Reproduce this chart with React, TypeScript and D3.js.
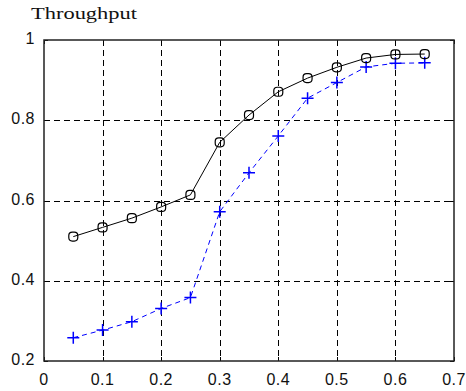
import * as d3 from 'd3'
import { useEffect, useRef } from 'react'

const loads = [0.05, 0.1, 0.15, 0.2, 0.25, 0.3, 0.35, 0.4, 0.45, 0.5, 0.55, 0.6, 0.65]
const throughputA = [0.51, 0.533, 0.556, 0.584, 0.614, 0.745, 0.813, 0.871, 0.905, 0.932, 0.955, 0.964, 0.965]
const throughputB = [0.258, 0.277, 0.298, 0.331, 0.358, 0.572, 0.669, 0.761, 0.855, 0.894, 0.933, 0.942, 0.943]
const xTicks = [0, 0.1, 0.2, 0.3, 0.4, 0.5, 0.6, 0.7]
const yTicks = [0.2, 0.4, 0.6, 0.8, 1]

const W = 466,
  H = 391

const App = () => {
  const ref = useRef<SVGSVGElement>(null)

  useEffect(() => {
    const svg = d3.select(ref.current)
    svg.selectAll('*').remove()

    var left = 44,
      right = 454,
      top = 40,
      bottom = 361

    var x = d3.scaleLinear().domain([0, 0.7]).range([left, right])
    var y = d3.scaleLinear().domain([0.2, 1]).range([bottom, top])

    svg.append('rect').attr('width', W).attr('height', H).attr('fill', '#fff')

    // grid
    var grid = svg.append('g').attr('stroke', '#000').attr('stroke-width', 1).attr('stroke-dasharray', '6,4')
    xTicks.slice(1, -1).forEach(function (t) {
      grid
        .append('line')
        .attr('x1', Math.round(x(t)) + 0.5)
        .attr('x2', Math.round(x(t)) + 0.5)
        .attr('y1', top)
        .attr('y2', bottom)
    })
    yTicks.slice(1, -1).forEach(function (t) {
      grid
        .append('line')
        .attr('y1', Math.round(y(t)) + 0.5)
        .attr('y2', Math.round(y(t)) + 0.5)
        .attr('x1', left)
        .attr('x2', right)
    })

    // inward ticks
    var ticks = svg.append('g').attr('stroke', '#000').attr('stroke-width', 1)
    xTicks.forEach(function (t) {
      var px = Math.round(x(t)) + 0.5
      ticks.append('line').attr('x1', px).attr('x2', px).attr('y1', bottom).attr('y2', bottom - 4)
      ticks.append('line').attr('x1', px).attr('x2', px).attr('y1', top).attr('y2', top + 4)
    })
    yTicks.forEach(function (t) {
      var py = Math.round(y(t)) + 0.5
      ticks.append('line').attr('y1', py).attr('y2', py).attr('x1', left).attr('x2', left + 4)
      ticks.append('line').attr('y1', py).attr('y2', py).attr('x1', right).attr('x2', right - 4)
    })

    // box
    svg
      .append('rect')
      .attr('x', left)
      .attr('y', top)
      .attr('width', right - left)
      .attr('height', bottom - top)
      .attr('fill', 'none')
      .attr('stroke', '#222')
      .attr('stroke-width', 1.5)

    // tick labels
    svg
      .append('g')
      .selectAll('text')
      .data(xTicks)
      .enter()
      .append('text')
      .attr('x', (d) => x(d))
      .attr('y', 385)
      .attr('text-anchor', 'middle')
      .attr('font-family', 'Liberation Sans, Arial, sans-serif')
      .attr('font-size', 16)
      .attr('letter-spacing', 0.5)
      .attr('fill', '#111')
      .text((d) => d3.format('~g')(d))

    svg
      .append('g')
      .selectAll('text')
      .data(yTicks)
      .enter()
      .append('text')
      .attr('x', 35)
      .attr('y', (d) => y(d) + 4)
      .attr('text-anchor', 'end')
      .attr('font-family', 'Liberation Sans, Arial, sans-serif')
      .attr('font-size', 16)
      .attr('letter-spacing', 0.5)
      .attr('fill', '#111')
      .text((d) => d3.format('~g')(d))

    svg
      .append('text')
      .attr('x', 31)
      .attr('y', 19)
      .attr('font-family', 'Liberation Serif, Times New Roman, serif')
      .attr('font-size', 17)
      .attr('textLength', 106)
      .attr('lengthAdjust', 'spacingAndGlyphs')
      .attr('fill', '#111')
      .text('Throughput')

    var line = d3
      .line<number>()
      .x((d, i) => x(loads[i]))
      .y((d) => y(d))

    // series B (blue dashed, plus markers)
    svg
      .append('path')
      .attr('d', line(throughputB))
      .attr('fill', 'none')
      .attr('stroke', '#0000ff')
      .attr('stroke-width', 1)
      .attr('stroke-dasharray', '5,4')

    svg
      .append('g')
      .selectAll('path')
      .data(throughputB)
      .enter()
      .append('path')
      .attr('d', (d, i) => {
        var px = x(loads[i]),
          py = y(d)
        return 'M' + (px - 6) + ',' + py + 'H' + (px + 6) + 'M' + px + ',' + (py - 6) + 'V' + (py + 6)
      })
      .attr('stroke', '#0000ff')
      .attr('stroke-width', 1.5)

    // series A (black solid, circle markers)
    svg
      .append('path')
      .attr('d', line(throughputA))
      .attr('fill', 'none')
      .attr('stroke', '#000')
      .attr('stroke-width', 1)

    svg
      .append('g')
      .selectAll('rect')
      .data(throughputA)
      .enter()
      .append('rect')
      .attr('x', (d, i) => x(loads[i]) - 4.5)
      .attr('y', (d) => y(d) - 4.5)
      .attr('width', 9)
      .attr('height', 9)
      .attr('rx', 3.5)
      .attr('fill', 'none')
      .attr('stroke', '#000')
      .attr('stroke-width', 1.2)
  }, [])

  return <svg ref={ref} width={W} height={H} style={{ position: 'absolute', left: 0, top: 0 }}></svg>
}

export default App
